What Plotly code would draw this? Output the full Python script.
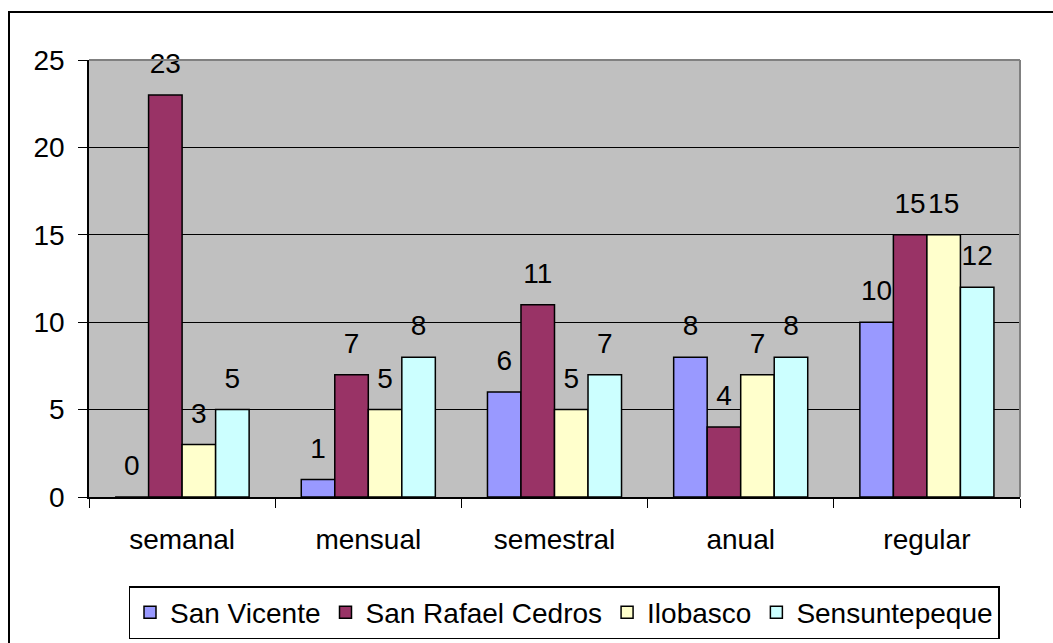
import plotly.graph_objects as go

categories = ["semanal", "mensual", "semestral", "anual", "regular"]
san_vicente = [0, 1, 6, 8, 10]
san_rafael = [23, 7, 11, 4, 15]
ilobasco = [3, 5, 5, 7, 15]
sensuntepeque = [5, 8, 7, 8, 12]
series_names = ["San Vicente", "San Rafael Cedros", "Ilobasco", "Sensuntepeque"]
series_colors = ["#9999FF", "#993366", "#FFFFCC", "#CCFFFF"]
y_ticks = [0, 5, 10, 15, 20, 25]

FONT = "Liberation Sans, Arial, sans-serif"
FS = 28
GAP = 0.28

L, R, T, B = 89, 1020, 60, 497
W, H = 1053, 643

fig = go.Figure()
all_vals = [san_vicente, san_rafael, ilobasco, sensuntepeque]
for i, (name, vals, col) in enumerate(zip(series_names, all_vals, series_colors)):
    fig.add_trace(go.Bar(
        x=categories, y=vals, name=name, offsetgroup=str(i),
        marker=dict(color=col, line=dict(color="black", width=1.5)),
        hoverinfo="skip",
    ))
for i, (name, vals) in enumerate(zip(series_names, all_vals)):
    fig.add_trace(go.Scatter(
        x=categories, y=vals, name=name + " labels", offsetgroup=str(i),
        mode="markers+text", text=[str(v) for v in vals],
        textposition="top center",
        marker=dict(size=22, color="rgba(0,0,0,0)"),
        textfont=dict(family=FONT, size=FS, color="black"),
        showlegend=False, cliponaxis=False, hoverinfo="skip",
    ))

pw, ph = R - L, B - T
fig.update_layout(
    width=W, height=H,
    margin=dict(l=L, r=W - R, t=T, b=H - B, pad=0, autoexpand=False),
    paper_bgcolor="white",
    plot_bgcolor="#C0C0C0",
    barmode="group",
    bargap=GAP,
    bargroupgap=0,
    scattermode="group",
    scattergap=GAP,
    font=dict(family=FONT, size=FS, color="black"),
    showlegend=True,
    legend=dict(
        orientation="h", x=(564 - L) / pw, xanchor="center", y=(B - 586) / ph, yanchor="top",
        bordercolor="black", borderwidth=1.5, bgcolor="white",
        font=dict(family=FONT, size=FS, color="black"),
        itemwidth=30, tracegroupgap=0,
    ),
    xaxis=dict(
        showline=True, linecolor="black", linewidth=1.5, automargin=False,
        ticks="outside", tickson="boundaries", ticklen=9, tickcolor="black",
        tickfont=dict(family=FONT, size=FS), showgrid=False,
        ticklabelstandoff=17,
    ),
    yaxis=dict(
        range=[0, 25], tickvals=y_ticks, showline=True, linecolor="black", linewidth=1.5,
        ticks="outside", ticklen=9, tickcolor="black", automargin=False,
        showgrid=True, gridcolor="black", gridwidth=1,
        tickfont=dict(family=FONT, size=FS), zeroline=False,
        ticklabelstandoff=8,
    ),
    shapes=[
        dict(type="line", xref="paper", yref="paper", x0=0, x1=1, y0=1, y1=1,
             line=dict(color="#808080", width=2), layer="above"),
        dict(type="line", xref="paper", yref="paper", x0=1, x1=1, y0=0, y1=1,
             line=dict(color="#808080", width=2), layer="above"),
        dict(type="rect", xref="paper", yref="paper",
             x0=(9 - L) / pw, x1=(1070 - L) / pw,
             y0=(B - 670) / ph, y1=(B - 12) / ph,
             line=dict(color="black", width=2), layer="below"),
    ],
)

fig.write_html("out.html", config={"displayModeBar": False},
               post_script="document.body.style.margin='0';document.body.style.overflow='hidden';")
